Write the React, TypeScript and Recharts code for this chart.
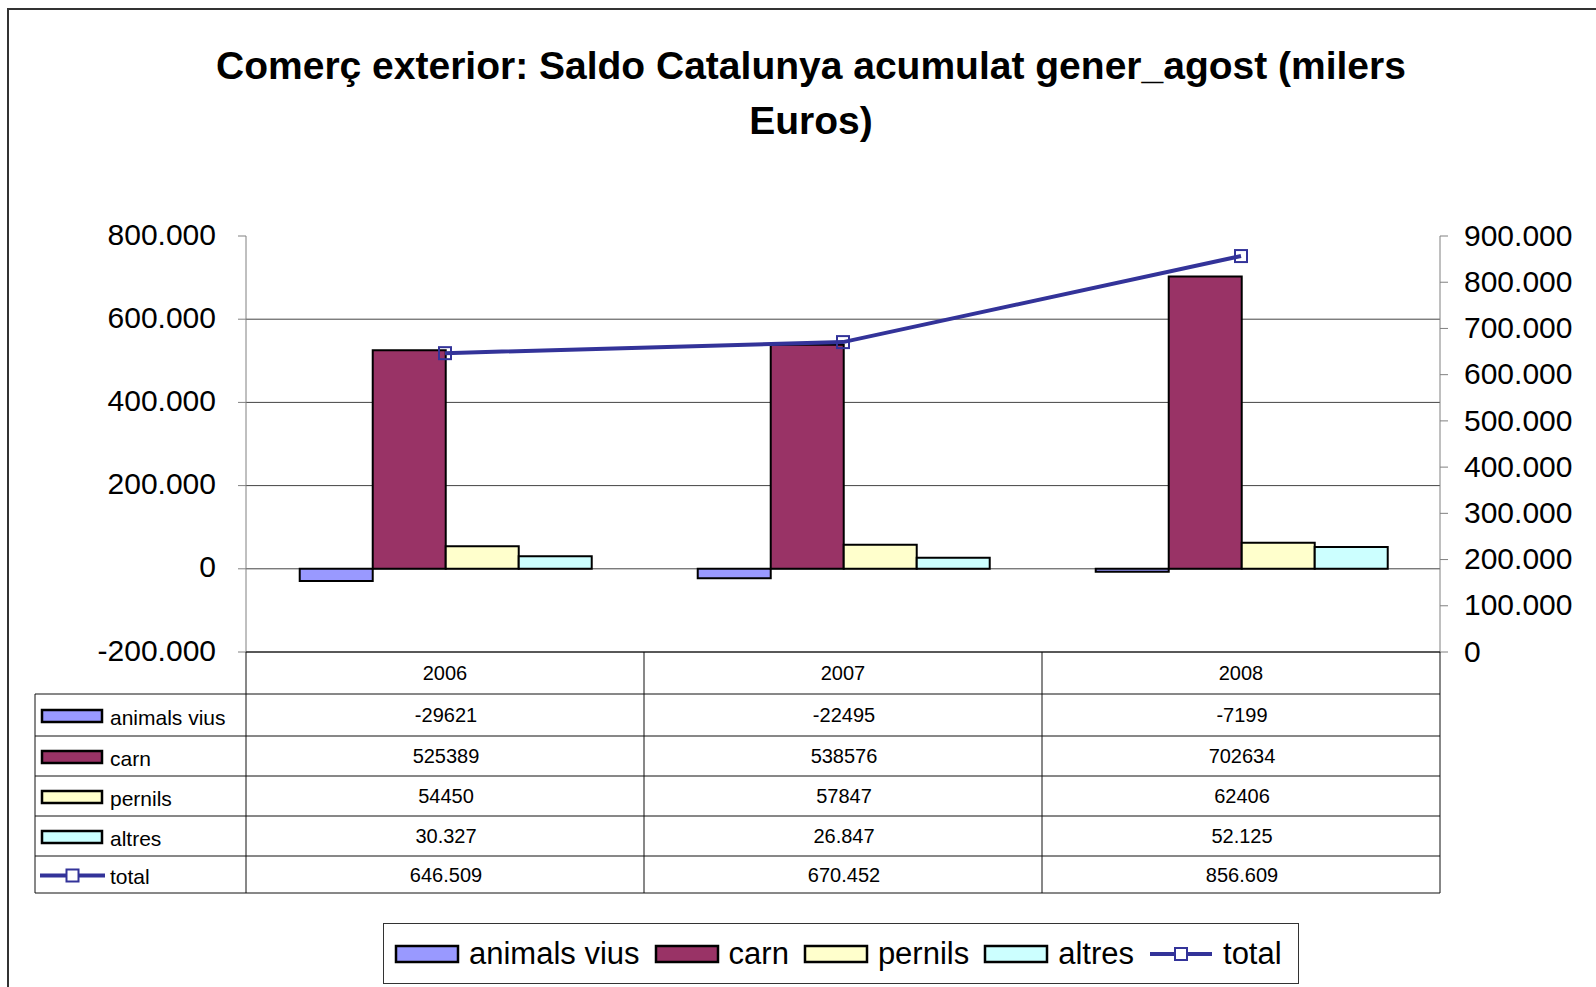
import React from 'react';
import { ComposedChart, Bar, Line, XAxis, YAxis, CartesianGrid } from 'recharts';

const categories = ['2006', '2007', '2008'];
const animalsVius = [-29621, -22495, -7199];
const carn = [525389, 538576, 702634];
const pernils = [54450, 57847, 62406];
const altres = [30327, 26847, 52125];
const total = [646509, 670452, 856609];

const animalsViusText = ['-29621', '-22495', '-7199'];
const carnText = ['525389', '538576', '702634'];
const pernilsText = ['54450', '57847', '62406'];
const altresText = ['30.327', '26.847', '52.125'];
const totalText = ['646.509', '670.452', '856.609'];

const leftTicks = [-200000, 0, 200000, 400000, 600000, 800000];
const rightTicks = [0, 100000, 200000, 300000, 400000, 500000, 600000, 700000, 800000, 900000];

const titleLines = ['Comerç exterior: Saldo Catalunya acumulat gener_agost (milers', 'Euros)'];

const seriesDefs = [
  { key: 'animalsVius', name: 'animals vius', color: '#9999FF', type: 'bar', text: animalsViusText },
  { key: 'carn', name: 'carn', color: '#993366', type: 'bar', text: carnText },
  { key: 'pernils', name: 'pernils', color: '#FFFFCC', type: 'bar', text: pernilsText },
  { key: 'altres', name: 'altres', color: '#CCFFFF', type: 'bar', text: altresText },
  { key: 'total', name: 'total', color: '#333399', type: 'line', text: totalText },
];

const data = categories.map((c, i) => ({
  year: c,
  animalsVius: animalsVius[i],
  carn: carn[i],
  pernils: pernils[i],
  altres: altres[i],
  total: total[i],
}));

const FONT = '"Liberation Sans", Arial, sans-serif';

const fmt = (v: number) => {
  if (v === 0) return '0';
  const s = Math.abs(v).toString().replace(/\B(?=(\d{3})+(?!\d))/g, '.');
  return (v < 0 ? '-' : '') + s;
};

const SquareDot = (props: any) => {
  const { cx, cy } = props;
  if (cx == null || cy == null) return null;
  return <rect x={cx - 6} y={cy - 6} width={12} height={12} fill="none" stroke="#333399" strokeWidth={2} />;
};

// layout constants
const W = 1596;
const H = 987;
const PLOT_L = 246;
const PLOT_R = 1440;
const PLOT_T = 236;
const PLOT_B = 652;
const TABLE_L = 35;
const HEADER_B = 694;
const ROW_LINES = [694, 736, 776, 816, 856, 893];

const Symbol = ({ def, x, cy, w, h }: any) => {
  if (def.type === 'line') {
    return (
      <g>
        <line x1={x} x2={x + w} y1={cy} y2={cy} stroke={def.color} strokeWidth={4} />
        <rect x={x + w / 2 - 6} y={cy - 6} width={12} height={12} fill="#fff" stroke={def.color} strokeWidth={2} />
      </g>
    );
  }
  return <rect x={x} y={cy - h / 2} width={w} height={h} fill={def.color} stroke="#000" strokeWidth={2.5} />;
};

export default function App() {
  const colW = (PLOT_R - PLOT_L) / categories.length;
  const tableStroke = '#111';
  return (
    <div style={{ position: 'absolute', left: 0, top: 0, width: W, height: H, background: '#fff', overflow: 'hidden', fontFamily: FONT }}>
      <div style={{ position: 'absolute', left: 7, top: 8, width: 1700, height: 1100, border: '2px solid #333', boxSizing: 'border-box' }} />
      <div style={{ position: 'absolute', left: 0, top: 38, width: 1622, textAlign: 'center', fontWeight: 'bold', fontSize: 39, lineHeight: '55px', color: '#000' }}>
        {titleLines.map((t, i) => (
          <div key={i}>{t}</div>
        ))}
      </div>
      <div style={{ position: 'absolute', left: 0, top: 0 }}>
        <ComposedChart
          width={W}
          height={H}
          data={data}
          margin={{ top: PLOT_T, bottom: H - PLOT_B, left: 0, right: 0 }}
          barCategoryGap="13.5%"
          barGap={0}
        >
          <CartesianGrid
            yAxisId="left"
            vertical={false}
            stroke="#444"
            horizontalValues={[-200000, 0, 200000, 400000, 600000]}
          />
          <XAxis dataKey="year" hide />
          <YAxis
            yAxisId="left"
            domain={[-200000, 800000]}
            ticks={leftTicks}
            interval={0}
            tickFormatter={fmt}
            width={PLOT_L}
            tickSize={8}
            tickMargin={22}
            axisLine={{ stroke: '#808080' }}
            tickLine={{ stroke: '#808080' }}
            tick={{ fontSize: 30, fill: '#000', fontFamily: FONT, dy: -2 }}
            allowDataOverflow
          />
          <YAxis
            yAxisId="right"
            orientation="right"
            domain={[0, 900000]}
            ticks={rightTicks}
            interval={0}
            tickFormatter={fmt}
            width={W - PLOT_R}
            tickSize={8}
            tickMargin={16}
            axisLine={{ stroke: '#808080' }}
            tickLine={{ stroke: '#808080' }}
            tick={{ fontSize: 30, fill: '#000', fontFamily: FONT, dy: -1 }}
            allowDataOverflow
          />
          {seriesDefs
            .filter((d) => d.type === 'bar')
            .map((d) => (
              <Bar key={d.key} yAxisId="left" dataKey={d.key} name={d.name} fill={d.color} stroke="#000" strokeWidth={2} isAnimationActive={false} />
            ))}
          <Line
            yAxisId="right"
            dataKey="total"
            name="total"
            stroke="#333399"
            strokeWidth={4}
            dot={<SquareDot />}
            activeDot={false}
            isAnimationActive={false}
          />
        </ComposedChart>
      </div>
      {/* data table */}
      <svg width={W} height={H} style={{ position: 'absolute', left: 0, top: 0, pointerEvents: 'none' }}>
        <line x1={PLOT_L} x2={PLOT_R} y1={PLOT_B} y2={PLOT_B} stroke={tableStroke} strokeWidth={1} />
        {ROW_LINES.map((y, i) => (
          <line key={'h' + i} x1={TABLE_L} x2={PLOT_R} y1={y} y2={y} stroke={tableStroke} strokeWidth={1} />
        ))}
        <line x1={TABLE_L} x2={TABLE_L} y1={HEADER_B} y2={ROW_LINES[ROW_LINES.length - 1]} stroke={tableStroke} strokeWidth={1} />
        {categories.map((_, i) => (
          <line key={'v' + i} x1={PLOT_L + colW * (i + 1)} x2={PLOT_L + colW * (i + 1)} y1={PLOT_B} y2={ROW_LINES[ROW_LINES.length - 1]} stroke={tableStroke} strokeWidth={1} />
        ))}
        <line x1={PLOT_L} x2={PLOT_L} y1={PLOT_B} y2={ROW_LINES[ROW_LINES.length - 1]} stroke={tableStroke} strokeWidth={1} />
        {categories.map((c, i) => (
          <text key={'c' + i} x={PLOT_L + colW * (i + 0.5)} y={(PLOT_B + HEADER_B) / 2} textAnchor="middle" dominantBaseline="central" fontSize={20} fontFamily={FONT} fill="#000">
            {c}
          </text>
        ))}
        {seriesDefs.map((d, r) => {
          const cy = (ROW_LINES[r] + ROW_LINES[r + 1]) / 2;
          return (
            <g key={'r' + r}>
              <Symbol def={d} x={d.type === 'line' ? 40 : 42} cy={cy + 1} w={d.type === 'line' ? 65 : 60} h={12} />
              <text x={110} y={cy + 2} dominantBaseline="central" fontSize={21} fontFamily={FONT} fill="#000">
                {d.name}
              </text>
              {d.text.map((t, i) => (
                <text key={i} x={PLOT_L + colW * (i + 0.5) + 1} y={cy} textAnchor="middle" dominantBaseline="central" fontSize={20} fontFamily={FONT} fill="#000">
                  {t}
                </text>
              ))}
            </g>
          );
        })}
      </svg>
      {/* legend */}
      <div
        style={{
          position: 'absolute',
          left: 383,
          top: 923,
          width: 916,
          height: 61,
          border: '1.5px solid #333',
          boxSizing: 'border-box',
          display: 'flex',
          alignItems: 'center',
          paddingLeft: 10,
          fontSize: 31,
          color: '#000',
          whiteSpace: 'nowrap',
          overflow: 'visible',
        }}
      >
        {seriesDefs.map((d) => (
          <div key={d.key} style={{ display: 'flex', alignItems: 'center', marginRight: 14, flexShrink: 0 }}>
            <svg width={66} height={20} style={{ marginRight: 9, flexShrink: 0 }}>
              <Symbol def={d} x={2} cy={10} w={62} h={16} />
            </svg>
            <span style={{ whiteSpace: 'nowrap' }}>{d.name}</span>
          </div>
        ))}
      </div>
    </div>
  );
}
